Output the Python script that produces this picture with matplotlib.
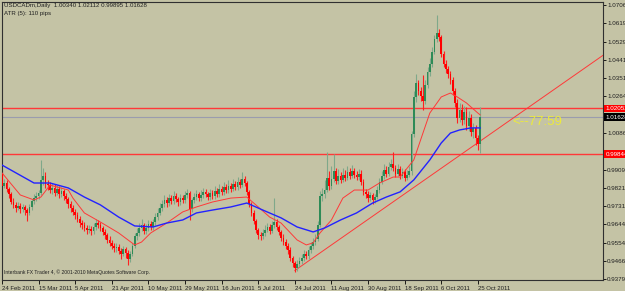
import matplotlib.pyplot as plt
import numpy as np

# Velas diarias USDCADm, barra 0 = 24 Feb 2011 ... barra 209 = 26 Oct 2011
# La apertura de cada vela es el cierre de la anterior
first_open = 0.9890
closes = [
    0.9830, 0.9845, 0.9815, 0.9790, 0.9752, 0.9738, 0.9722, 0.9735, 0.9718, 0.9726,
    0.9712, 0.9700, 0.9728, 0.9755, 0.9770, 0.9782, 0.9795, 0.9860, 0.9880, 0.9838,
    0.9832, 0.9810, 0.9822, 0.9798, 0.9815, 0.9790, 0.9805, 0.9780, 0.9765, 0.9740,
    0.9722, 0.9705, 0.9690, 0.9672, 0.9650, 0.9640, 0.9628, 0.9615, 0.9622, 0.9610,
    0.9630, 0.9652, 0.9640, 0.9625, 0.9605, 0.9590, 0.9570, 0.9555, 0.9540, 0.9528,
    0.9535, 0.9515, 0.9500, 0.9522, 0.9505, 0.9475, 0.9500, 0.9540, 0.9585, 0.9600,
    0.9625, 0.9640, 0.9610, 0.9625, 0.9645, 0.9630, 0.9655, 0.9680, 0.9700, 0.9722,
    0.9740, 0.9760, 0.9745, 0.9770, 0.9755, 0.9780, 0.9765, 0.9750, 0.9772, 0.9760,
    0.9785, 0.9795, 0.9720, 0.9760, 0.9775, 0.9790, 0.9770, 0.9785, 0.9800, 0.9790,
    0.9775, 0.9795, 0.9780, 0.9805, 0.9790, 0.9815, 0.9800, 0.9825, 0.9810, 0.9830,
    0.9815, 0.9840, 0.9825, 0.9850, 0.9835, 0.9862, 0.9845, 0.9800, 0.9740, 0.9700,
    0.9660, 0.9615, 0.9590, 0.9585, 0.9600, 0.9618, 0.9630, 0.9612, 0.9640, 0.9655,
    0.9630, 0.9605, 0.9580, 0.9560, 0.9540, 0.9520, 0.9480, 0.9455, 0.9430, 0.9450,
    0.9465, 0.9480, 0.9500, 0.9490, 0.9520, 0.9540, 0.9560, 0.9575, 0.9640, 0.9780,
    0.9790, 0.9810, 0.9870, 0.9830, 0.9865, 0.9900, 0.9855, 0.9880, 0.9860, 0.9885,
    0.9870, 0.9895, 0.9880, 0.9900, 0.9885, 0.9875, 0.9890, 0.9850, 0.9800, 0.9790,
    0.9770, 0.9785, 0.9760, 0.9775, 0.9810, 0.9850, 0.9880, 0.9905, 0.9890, 0.9920,
    0.9935, 0.9915, 0.9890, 0.9910, 0.9880, 0.9895, 0.9870, 0.9885, 0.9900, 1.0080,
    1.0260, 1.0330, 1.0290, 1.0265, 1.0240, 1.0320, 1.0380, 1.0420, 1.0480, 1.0540,
    1.0570, 1.0550, 1.0470, 1.0420, 1.0395, 1.0370, 1.0345, 1.0290, 1.0230, 1.0160,
    1.0200, 1.0150, 1.0190, 1.0120, 1.0160, 1.0090, 1.0110, 1.0060, 1.0034, 1.01628,
]
highs = [
    0.9905, 0.9862, 0.9858, 0.9825, 0.9800, 0.9770, 0.9750, 0.9752, 0.9745, 0.9742,
    0.9738, 0.9725, 0.9740, 0.9768, 0.9790, 0.9800, 0.9812, 0.9955, 0.9915, 0.9895,
    0.9860, 0.9848, 0.9845, 0.9838, 0.9835, 0.9828, 0.9825, 0.9815, 0.9795, 0.9778,
    0.9755, 0.9738, 0.9718, 0.9702, 0.9685, 0.9665, 0.9655, 0.9642, 0.9640, 0.9635,
    0.9648, 0.9672, 0.9665, 0.9655, 0.9638, 0.9620, 0.9602, 0.9585, 0.9568, 0.9555,
    0.9552, 0.9548, 0.9530, 0.9540, 0.9535, 0.9520, 0.9515, 0.9555, 0.9602, 0.9625,
    0.9650, 0.9668, 0.9652, 0.9645, 0.9665, 0.9658, 0.9672, 0.9698, 0.9725, 0.9745,
    0.9762, 0.9785, 0.9775, 0.9792, 0.9785, 0.9805, 0.9795, 0.9778, 0.9790, 0.9785,
    0.9805, 0.9815, 0.9805, 0.9772, 0.9795, 0.9812, 0.9802, 0.9808, 0.9822, 0.9815,
    0.9802, 0.9815, 0.9808, 0.9828, 0.9818, 0.9838, 0.9830, 0.9850, 0.9838, 0.9858,
    0.9845, 0.9865, 0.9855, 0.9875, 0.9862, 0.9898, 0.9878, 0.9855, 0.9812, 0.9752,
    0.9712, 0.9672, 0.9628, 0.9605, 0.9620, 0.9640, 0.9652, 0.9645, 0.9662, 0.9772,
    0.9668, 0.9642, 0.9618, 0.9595, 0.9575, 0.9555, 0.9532, 0.9492, 0.9468, 0.9470,
    0.9485, 0.9502, 0.9520, 0.9515, 0.9538, 0.9560, 0.9580, 0.9595, 0.9658, 0.9805,
    0.9820, 0.9860, 0.9992, 0.9900, 0.9925, 0.9985, 0.9918, 0.9910, 0.9898, 0.9915,
    0.9905, 0.9928, 0.9915, 0.9930, 0.9918, 0.9902, 0.9912, 0.9905, 0.9862, 0.9815,
    0.9805, 0.9800, 0.9795, 0.9792, 0.9828, 0.9870, 0.9902, 0.9935, 0.9925, 0.9945,
    0.9962, 0.9992, 0.9930, 0.9935, 0.9925, 0.9918, 0.9910, 0.9905, 0.9925, 1.0098,
    1.0290, 1.0370, 1.0345, 1.0310, 1.0365, 1.0345, 1.0405, 1.0450, 1.0505, 1.0560,
    1.0658, 1.0590, 1.0562, 1.0485, 1.0440, 1.0410, 1.0385, 1.0360, 1.0305, 1.0250,
    1.0232, 1.0225, 1.0218, 1.0210, 1.0195, 1.0178, 1.0135, 1.0125, 1.0078, 1.02112,
]
lows = [
    0.9820, 0.9818, 0.9800, 0.9770, 0.9740, 0.9722, 0.9705, 0.9712, 0.9700, 0.9705,
    0.9690, 0.9662, 0.9688, 0.9715, 0.9740, 0.9755, 0.9765, 0.9785, 0.9835, 0.9820,
    0.9812, 0.9795, 0.9790, 0.9780, 0.9785, 0.9772, 0.9775, 0.9762, 0.9748, 0.9725,
    0.9705, 0.9690, 0.9672, 0.9655, 0.9632, 0.9622, 0.9610, 0.9598, 0.9600, 0.9592,
    0.9598, 0.9618, 0.9625, 0.9610, 0.9590, 0.9575, 0.9555, 0.9538, 0.9522, 0.9510,
    0.9512, 0.9498, 0.9478, 0.9488, 0.9480, 0.9445, 0.9462, 0.9492, 0.9530, 0.9570,
    0.9588, 0.9612, 0.9595, 0.9598, 0.9612, 0.9615, 0.9618, 0.9642, 0.9665, 0.9688,
    0.9708, 0.9728, 0.9730, 0.9732, 0.9740, 0.9742, 0.9750, 0.9735, 0.9738, 0.9745,
    0.9748, 0.9770, 0.9665, 0.9705, 0.9745, 0.9760, 0.9755, 0.9758, 0.9772, 0.9775,
    0.9760, 0.9762, 0.9765, 0.9768, 0.9775, 0.9778, 0.9785, 0.9788, 0.9795, 0.9798,
    0.9800, 0.9805, 0.9810, 0.9812, 0.9820, 0.9825, 0.9830, 0.9788, 0.9728, 0.9685,
    0.9645, 0.9600, 0.9575, 0.9568, 0.9572, 0.9588, 0.9605, 0.9598, 0.9600, 0.9625,
    0.9615, 0.9590, 0.9565, 0.9545, 0.9525, 0.9502, 0.9465, 0.9438, 0.9413, 0.9418,
    0.9435, 0.9452, 0.9468, 0.9475, 0.9478, 0.9505, 0.9525, 0.9545, 0.9565, 0.9632,
    0.9755, 0.9772, 0.9800, 0.9810, 0.9815, 0.9850, 0.9840, 0.9838, 0.9842, 0.9848,
    0.9852, 0.9858, 0.9865, 0.9868, 0.9870, 0.9858, 0.9860, 0.9835, 0.9785, 0.9772,
    0.9752, 0.9755, 0.9742, 0.9745, 0.9765, 0.9798, 0.9838, 0.9865, 0.9872, 0.9878,
    0.9905, 0.9900, 0.9872, 0.9878, 0.9862, 0.9868, 0.9855, 0.9858, 0.9872, 0.9885,
    1.0065, 1.0235, 1.0270, 1.0240, 1.0198, 1.0225, 1.0305, 1.0362, 1.0405, 1.0470,
    1.0525, 1.0530, 1.0455, 1.0405, 1.0378, 1.0352, 1.0325, 1.0270, 1.0210, 1.0135,
    1.0140, 1.0125, 1.0130, 1.0100, 1.0095, 1.0070, 1.0060, 1.0030, 1.0005, 0.99895,
]

# Medias moviles (barra, precio)
red_ma_bars = [0, 8, 14, 17, 21, 29, 31, 36, 43, 51, 58, 61, 65, 72, 79, 85, 92, 100,
               107, 112, 117, 122, 129, 133, 136, 139, 144, 149, 154, 160, 165, 171,
               174, 180, 184, 187, 192, 196, 199, 203, 208, 209]
red_ma = [0.9893, 0.9786, 0.9762, 0.9776, 0.9834, 0.9810, 0.9771, 0.9699, 0.9655,
          0.9602, 0.9544, 0.9558, 0.9602, 0.9650, 0.9704, 0.9728, 0.9752, 0.9771,
          0.9776, 0.9728, 0.9679, 0.9650, 0.9568, 0.9544, 0.9554, 0.9602, 0.9665,
          0.9771, 0.9810, 0.9810, 0.9844, 0.9873, 0.9873, 0.9956, 1.0086, 1.0183,
          1.0261, 1.0280, 1.0261, 1.0232, 1.0183, 1.0174]
blue_ma_bars = [0, 14, 21, 29, 36, 43, 51, 58, 66, 72, 79, 85, 92, 100, 107, 114, 122,
                129, 136, 141, 148, 155, 162, 168, 174, 180, 187, 192, 196, 200, 205, 209]
blue_ma = [0.9931, 0.9844, 0.9844, 0.9820, 0.9776, 0.9738, 0.9679, 0.9636, 0.9631,
           0.9650, 0.9665, 0.9699, 0.9713, 0.9728, 0.9747, 0.9713, 0.9675, 0.9631,
           0.9607, 0.9626, 0.9665, 0.9699, 0.9747, 0.9776, 0.9801, 0.9859, 0.9956,
           1.0038, 1.0086, 1.0101, 1.0111, 1.0111]

level_hi = 1.02052
level_lo = 0.99844
bid = 1.01628
trend_bars = [128, 263]
trend_prices = [0.9420, 1.0465]

date_bars = list(range(0, 209, 16))
date_labels = ['24 Feb 2011', '15 Mar 2011', '5 Apr 2011', '21 Apr 2011', '10 May 2011',
               '29 May 2011', '16 Jun 2011', '5 Jul 2011', '24 Jul 2011', '11 Aug 2011',
               '30 Aug 2011', '18 Sep 2011', '6 Oct 2011', '25 Oct 2011']
price_ticks = [1.07065, 1.06190, 1.05290, 1.04415, 1.03515, 1.02640, 1.00865, 0.99965,
               0.99090, 0.98215, 0.97315, 0.96440, 0.95540, 0.94665, 0.93790]

plt.rcParams['font.family'] = ['Liberation Sans', 'DejaVu Sans']
fondo = '#c4c3a5'
fig = plt.figure(figsize=(6.25, 2.91), dpi=100, facecolor=fondo)
ax = fig.add_axes([2/625, 1 - 280/291, 601/625, 278/291], facecolor=fondo)

c = np.array(closes)
o = np.concatenate([[first_open], c[:-1]])
h = np.array(highs)
l = np.array(lows)
x = np.arange(len(c))
sube = c >= o

# mechas
ax.vlines(x[sube], l[sube], h[sube], color='#7fa88a', lw=0.8, zorder=2)
ax.vlines(x[~sube], l[~sube], h[~sube], color='#ff2020', lw=0.8, zorder=2)
# cuerpos
alto = np.maximum(np.abs(c - o), 0.0003)
ax.bar(x[sube], alto[sube], bottom=np.minimum(o, c)[sube], width=0.75,
       color='#2e8b57', zorder=3)
ax.bar(x[~sube], alto[~sube], bottom=np.minimum(o, c)[~sube], width=0.75,
       color='#ff0000', zorder=3)

ax.plot(red_ma_bars, red_ma, color='#ff3838', lw=0.7, zorder=4)
ax.plot(blue_ma_bars, blue_ma, color='#2222ff', lw=1.0, zorder=4)

ax.axhline(level_hi, color='#ff3838', lw=1.0, zorder=1)
ax.axhline(level_lo, color='#ff3838', lw=1.0, zorder=1)
ax.axhline(bid, color='#9a9cae', lw=0.8, zorder=1)
ax.plot(trend_bars, trend_prices, color='#ff3838', lw=0.7, zorder=1)

ax.set_xlim(0.3, 262.7)
ax.set_ylim(0.93741, 1.07210)

ax.yaxis.tick_right()
ax.set_yticks(price_ticks)
ax.set_yticklabels([f'{p:.5f}' for p in price_ticks], fontsize=4.5, color='#202020')
ax.tick_params(axis='y', length=2, pad=1, width=0.6)
ax.set_xticks(date_bars)
ax.set_xticklabels(date_labels, fontsize=4.3, ha='left', color='#202020')
ax.tick_params(axis='x', length=3, pad=1, width=0.6)
for s in ax.spines.values():
    s.set_color('#303030')
    s.set_linewidth(0.8)

# etiquetas de niveles en la escala de precios
for nivel, col in [(level_hi, 'red'), (bid, 'black'), (level_lo, 'red')]:
    ax.text(1.004, nivel, f'{nivel:.5f}', transform=ax.get_yaxis_transform(),
            fontsize=4.5, color='white', va='center', ha='left', clip_on=False,
            bbox=dict(boxstyle='square,pad=0.2', fc=col, ec='none'), zorder=6)

ax.text(223, 1.0140, '<--77:59', color='#ecea3c', fontsize=9.5, va='center', ha='left')

fig.text(4/625, 1 - 5/291, 'USDCADm,Daily  1.00340 1.02112 0.99895 1.01628',
         fontsize=4.4, va='center', color='#202020')
fig.text(4/625, 1 - 13/291, 'ATR (5): 110 pips', fontsize=4.4, va='center', color='#202020')
fig.text(4/625, 1 - 272/291, 'Interbank FX Trader 4, © 2001-2010 MetaQuotes Software Corp.',
         fontsize=3.6, va='center', color='#202020')

plt.savefig('out.png', dpi=100, facecolor=fondo)
